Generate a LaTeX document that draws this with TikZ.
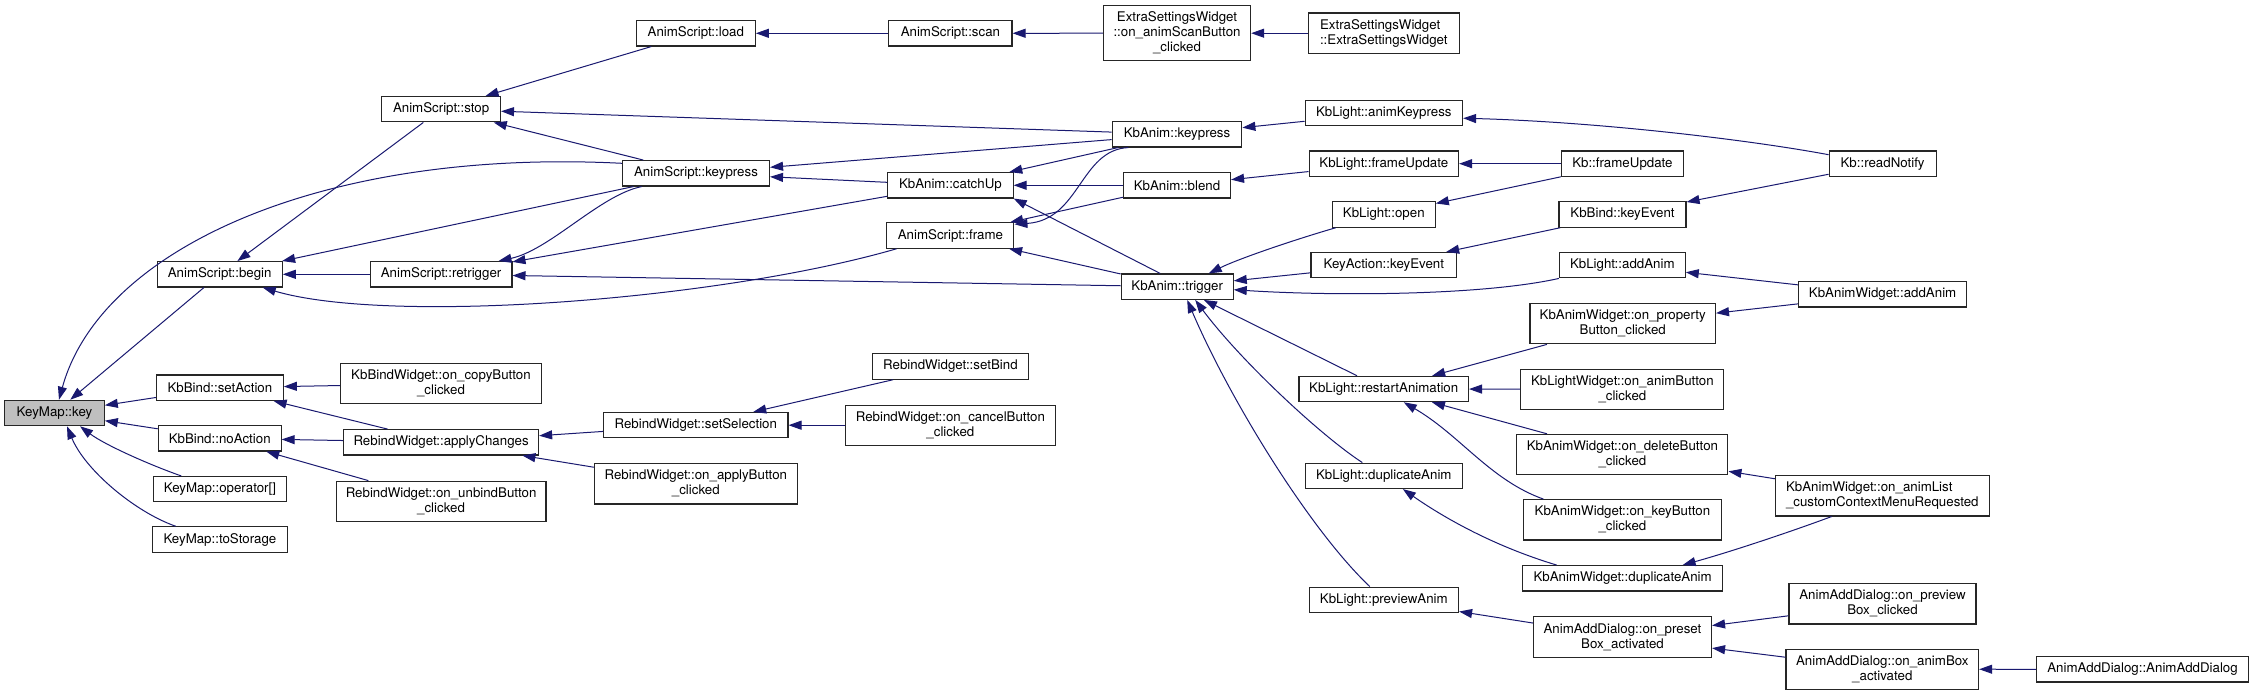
\documentclass[tikz,border=0pt]{standalone}
\usepackage{fontspec}
\setmainfont{TeX Gyre Heros}
\usetikzlibrary{arrows.meta}
\definecolor{edgecol}{HTML}{191970}
\definecolor{keyfill}{HTML}{BFBFBF}
\newcommand\nodefont{\fontsize{13.3}{15}\selectfont}
\begin{document}
\begin{tikzpicture}[x=1pt,y=-1pt,
  box/.style={draw=black!85, line width=1.1pt, fill=white, inner sep=0pt, font=\nodefont, align=center, minimum height=25.4pt},
  two/.style={minimum height=40.3pt},
  link/.style={draw=edgecol, line width=1pt, -{Triangle[length=13pt,width=9pt]}}]
\fill[white] (0,0) rectangle (2253,695);
\useasboundingbox (0,0) rectangle (2253,695);
% column 1
\node[box, fill=keyfill, minimum width=99.5pt] (key) at (54.5,413) {KeyMap::key};
% column 2
\node[box, minimum width=125pt] (begin) at (219.7,274.3) {AnimScript::begin};
\node[box, minimum width=126.8pt] (setaction) at (219.9,387.7) {KbBind::setAction};
\node[box, minimum width=122.8pt] (noaction) at (219.7,438.3) {KbBind::noAction};
\node[box, minimum width=133.6pt] (operator) at (219.9,489.2) {KeyMap::operator[]};
\node[box, minimum width=135pt] (tostorage) at (219.9,539.5) {KeyMap::toStorage};
% column 3
\node[box, minimum width=118.8pt] (stop) at (441.1,109.2) {AnimScript::stop};
\node[box, minimum width=141.7pt] (retrigger) at (441.1,274.3) {AnimScript::retrigger};
\node[box, two, minimum width=200.5pt] (copybtn) at (441,383.7) {KbBindWidget::on\_copyButton\\\_clicked};
\node[box, minimum width=195pt] (applychanges) at (441.1,442.3) {RebindWidget::applyChanges};
\node[box, two, minimum width=209.8pt] (unbind) at (441.1,501.3) {RebindWidget::on\_unbindButton\\\_clicked};
% column 4
\node[box, minimum width=119pt] (load) at (695.8,33.3) {AnimScript::load};
\node[box, minimum width=147pt] (askeypress) at (696,173.3) {AnimScript::keypress};
\node[box, minimum width=184.3pt] (setselection) at (695.8,425.2) {RebindWidget::setSelection};
\node[box, two, minimum width=202.7pt] (applybtn) at (695.8,483.8) {RebindWidget::on\_applyButton\\\_clicked};
% column 5
\node[box, minimum width=123.2pt] (scan) at (950.4,33.3) {AnimScript::scan};
\node[box, minimum width=125.4pt] (catchup) at (950.4,185.3) {KbAnim::catchUp};
\node[box, minimum width=127pt] (frame) at (950.4,235.5) {AnimScript::frame};
\node[box, minimum width=156.5pt] (setbind) at (950.4,366.5) {RebindWidget::setBind};
\node[box, two, minimum width=209.7pt] (cancel) at (950.4,425.2) {RebindWidget::on\_cancelButton\\\_clicked};
% column 6
\node[box, minimum height=55pt, minimum width=147.2pt] (scanbtn) at (1177,33.2) {ExtraSettingsWidget\\::on\_animScanButton\\\_clicked};
\node[box, minimum width=129.7pt] (kbkeypress) at (1177,134.3) {KbAnim::keypress};
\node[box, minimum width=107pt] (blend) at (1177,185.3) {KbAnim::blend};
\node[box, minimum width=112pt] (trigger) at (1177.2,286.7) {KbAnim::trigger};
% column 7
\node[box, two, align=left, minimum width=151pt] (esw) at (1383.8,33.2) {ExtraSettingsWidget\\::ExtraSettingsWidget};
\node[box, minimum width=157.5pt] (animkeypress) at (1383.8,113.2) {KbLight::animKeypress};
\node[box, minimum width=149.5pt] (lframeupdate) at (1383.8,163.7) {KbLight::frameUpdate};
\node[box, minimum width=103pt] (open) at (1383.8,214.5) {KbLight::open};
\node[box, minimum width=145.7pt] (keyaction) at (1383.8,265.2) {KeyAction::keyEvent};
\node[box, minimum width=169.5pt] (restart) at (1383.7,389) {KbLight::restartAnimation};
\node[box, minimum width=157pt] (ldup) at (1383.8,475.8) {KbLight::duplicateAnim};
\node[box, minimum width=149.5pt] (preview) at (1383.8,599.8) {KbLight::previewAnim};
% column 8
\node[box, minimum width=122pt] (kbframeupdate) at (1622.4,163.7) {Kb::frameUpdate};
\node[box, minimum width=127pt] (bindkeyevent) at (1622.5,214.5) {KbBind::keyEvent};
\node[box, minimum width=125.8pt] (laddanim) at (1622.3,265.2) {KbLight::addAnim};
\node[box, two, minimum width=185.5pt] (property) at (1622.7,323.7) {KbAnimWidget::on\_property\\Button\_clicked};
\node[box, two, minimum width=203pt] (animbtn) at (1622.4,389.2) {KbLightWidget::on\_animButton\\\_clicked};
\node[box, two, minimum width=211pt] (deletebtn) at (1622.4,454.5) {KbAnimWidget::on\_deleteButton\\\_clicked};
\node[box, two, minimum width=197.7pt] (keybtn) at (1622.4,519.8) {KbAnimWidget::on\_keyButton\\\_clicked};
\node[box, minimum width=199.6pt] (wdup) at (1622.6,578.3) {KbAnimWidget::duplicateAnim};
\node[box, two, minimum width=178pt] (preset) at (1622.5,637) {AnimAddDialog::on\_preset\\Box\_activated};
% column 9
\node[box, minimum width=107pt] (readnotify) at (1882.6,163.7) {Kb::readNotify};
\node[box, minimum width=168.5pt] (waddanim) at (1882.6,294.3) {KbAnimWidget::addAnim};
\node[box, two, align=left, minimum width=213.8pt] (ctxmenu) at (1882.3,495.8) {KbAnimWidget::on\_animList\\\_customContextMenuRequested};
\node[box, two, minimum width=187pt] (previewbox) at (1882.5,603.8) {AnimAddDialog::on\_preview\\Box\_clicked};
\node[box, two, minimum width=192.6pt] (animbox) at (1882.3,669.2) {AnimAddDialog::on\_animBox\\\_activated};
% column 10
\node[box, minimum width=211.5pt] (ctor) at (2142.5,669.3) {AnimAddDialog::AnimAddDialog};

% straight connectors (caller -> callee)
\draw[link] (begin) -- (key);
\draw[link] (setaction) -- (key);
\draw[link] (noaction) -- (key);
\draw[link] (stop) -- (begin);
\draw[link] (askeypress) -- (begin);
\draw[link] (retrigger) -- (begin);
\draw[link] (load) -- (stop);
\draw[link] (kbkeypress) -- (stop);
\draw[link] (askeypress) -- (stop);
\draw[link] (kbkeypress) -- (askeypress);
\draw[link] (catchup) -- (askeypress);
\draw[link] (catchup) -- (retrigger);
\draw[link] (trigger) -- (retrigger);
\draw[link] (kbkeypress) -- (catchup);
\draw[link] (blend) -- (catchup);
\draw[link] ([xshift=-17pt]trigger.north) -- (catchup.south east);
\draw[link] (blend) -- (frame);
\draw[link] (trigger) -- (frame);
\draw[link] (animkeypress) -- (kbkeypress);
\draw[link] (lframeupdate) -- (blend);
\draw[link] (kbframeupdate) -- (lframeupdate);
\draw[link] (kbframeupdate) -- (open);
\draw[link] (readnotify) -- (bindkeyevent);
\draw[link] (bindkeyevent) -- (keyaction);
\draw[link] (waddanim) -- (laddanim);
\draw[link] (waddanim) -- (property);
\draw[link] (keyaction) -- (trigger);
\draw[link] (restart) -- (trigger);
\draw[link] (property) -- (restart);
\draw[link] (animbtn) -- (restart);
\draw[link] (deletebtn) -- (restart);
\draw[link] (ctxmenu) -- (deletebtn);
\draw[link] (preset) -- (preview);
\draw[link] (previewbox) -- (preset);
\draw[link] (animbox) -- (preset);
\draw[link] (ctor) -- (animbox);
\draw[link] (copybtn) -- (setaction);
\draw[link] (applychanges) -- (setaction);
\draw[link] (applychanges) -- (noaction);
\draw[link] (unbind) -- (noaction);
\draw[link] (setselection) -- (applychanges);
\draw[link] (applybtn) -- (applychanges);
\draw[link] (setbind) -- (setselection);
\draw[link] (cancel) -- (setselection);
\draw[link] (scan) -- (load);
\draw[link] (scanbtn) -- (scan);
\draw[link] (esw) -- (scanbtn);

% curved connectors
\draw[link] ([yshift=10pt]askeypress.west) .. controls (320,148) and (100,250) .. ([xshift=4.5pt]key.north);
\draw[link] ([xshift=-38.6pt]operator.north) .. controls (150,465) and (105,445) .. ([xshift=25.5pt]key.south);
\draw[link] ([xshift=-44.2pt]tostorage.north) .. controls (135,512) and (85,470) .. ([xshift=12.5pt]key.south);
\draw[link] ([xshift=-53.8pt]frame.south) .. controls (720,300) and (390,325) .. ([xshift=-20pt]begin.south east);
\draw[link] ([xshift=-54.3pt]askeypress.south) .. controls (600,195) and (550,250) .. ([xshift=-14pt]retrigger.north east);
\draw[link] ([xshift=-48.7pt]kbkeypress.south) .. controls (1080,150) and (1080,220) .. ([yshift=-2pt]frame.north east);
\draw[link] ([yshift=9pt]readnotify.west) .. controls (1750,140) and (1600,122) .. ([yshift=-5pt]animkeypress.east);
\draw[link] ([xshift=4pt]open.south west) .. controls (1300,238) and (1240,258) .. ([xshift=-25pt]trigger.north east);
\draw[link] (laddanim.south west) .. controls (1480,296) and (1330,296) .. ([yshift=-3pt]trigger.east);
\draw[link] ([xshift=-21.5pt]ldup.north) .. controls (1320,435) and (1240,360) .. ([xshift=18pt]trigger.south);
\draw[link] ([xshift=-14pt]preview.north) .. controls (1310,530) and (1230,400) .. ([xshift=10pt]trigger.south);
\draw[link] ([xshift=-79pt]keybtn.north) .. controls (1490,480) and (1460,435) .. ([xshift=20pt]restart.south);
\draw[link] ([xshift=-66pt]wdup.north) .. controls (1490,545) and (1440,515) .. ([xshift=19pt]ldup.south);
\draw[link] ([xshift=-50.6pt]ctxmenu.south) .. controls (1790,532) and (1730,552) .. ([xshift=60pt]wdup.north);
\end{tikzpicture}
\end{document}
